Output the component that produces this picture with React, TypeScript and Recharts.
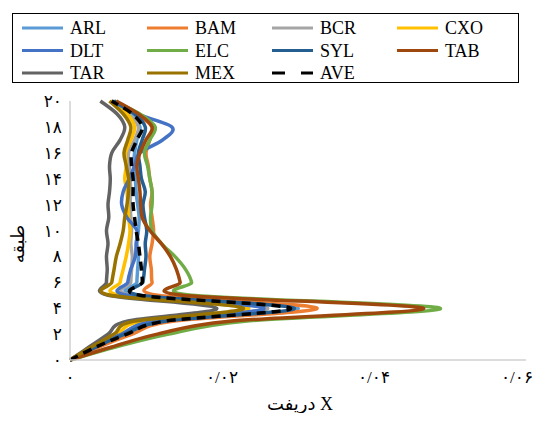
import React from "react";
import { LineChart, Line, XAxis, YAxis } from "recharts";

const stories = [0, 1, 2, 3, 4, 5, 6, 7, 8, 9, 10, 11, 12, 13, 14, 15, 16, 17, 18, 19, 20];

const ARL = [0, 0.003, 0.007, 0.012, 0.03, 0.0088, 0.0088, 0.0089, 0.009, 0.0088, 0.009, 0.0091, 0.0089, 0.0087, 0.0086, 0.0084, 0.0085, 0.0088, 0.0092, 0.008, 0.0055];
const BAM = [0, 0.0038, 0.0082, 0.0135, 0.0325, 0.0115, 0.0108, 0.0107, 0.0105, 0.0108, 0.011, 0.0108, 0.0106, 0.0108, 0.0105, 0.0103, 0.01, 0.0105, 0.0108, 0.0088, 0.0058];
const BCR = [0, 0.003, 0.0068, 0.011, 0.026, 0.008, 0.008, 0.0081, 0.0082, 0.008, 0.0081, 0.008, 0.0079, 0.008, 0.0079, 0.0078, 0.0077, 0.0085, 0.009, 0.0078, 0.0055];
const CXO = [0, 0.003, 0.0062, 0.0095, 0.0235, 0.0065, 0.0066, 0.007, 0.0074, 0.0077, 0.0079, 0.0077, 0.0076, 0.0075, 0.0072, 0.0074, 0.0073, 0.008, 0.0085, 0.0075, 0.0053];
const DLT = [0, 0.0032, 0.0068, 0.011, 0.0255, 0.0075, 0.0076, 0.008, 0.0086, 0.0087, 0.0088, 0.0075, 0.0068, 0.007, 0.0078, 0.0085, 0.0092, 0.0122, 0.0134, 0.0088, 0.0055];
const ELC = [0, 0.006, 0.013, 0.023, 0.0487, 0.016, 0.016, 0.0152, 0.0138, 0.012, 0.0108, 0.0106, 0.0108, 0.0108, 0.0105, 0.0102, 0.0098, 0.0105, 0.0112, 0.0092, 0.0058];
const SYL = [0, 0.0034, 0.0072, 0.0125, 0.0295, 0.0092, 0.0096, 0.0098, 0.01, 0.0099, 0.0101, 0.0098, 0.0096, 0.0099, 0.0094, 0.0092, 0.009, 0.0095, 0.0099, 0.0085, 0.0058];
const TAB = [0, 0.0055, 0.0115, 0.021, 0.0465, 0.0148, 0.0145, 0.014, 0.0132, 0.012, 0.0105, 0.0095, 0.0093, 0.0092, 0.009, 0.0088, 0.0092, 0.01, 0.0108, 0.009, 0.0061];
const TAR = [0, 0.0025, 0.005, 0.0075, 0.0193, 0.005, 0.0048, 0.0049, 0.0048, 0.005, 0.0048, 0.0051, 0.005, 0.0052, 0.0053, 0.0052, 0.0055, 0.0066, 0.0072, 0.0062, 0.004];
const MEX = [0, 0.0028, 0.0058, 0.0085, 0.0228, 0.0053, 0.0055, 0.0058, 0.0061, 0.0066, 0.007, 0.0072, 0.0075, 0.0077, 0.0077, 0.0074, 0.0071, 0.0076, 0.008, 0.007, 0.0052];
const AVE = [0, 0.0034, 0.0075, 0.0125, 0.029, 0.0092, 0.0095, 0.0094, 0.0092, 0.009, 0.0087, 0.0085, 0.0083, 0.0083, 0.0083, 0.0081, 0.0081, 0.0088, 0.0095, 0.0082, 0.0055];

const seriesNames = ["ARL", "BAM", "BCR", "CXO", "DLT", "ELC", "SYL", "TAB", "TAR", "MEX", "AVE"];
const seriesValues = [ARL, BAM, BCR, CXO, DLT, ELC, SYL, TAB, TAR, MEX, AVE];
const seriesColors = ["#5B9BD5", "#ED7D31", "#A5A5A5", "#FFC000", "#4472C4", "#70AD47", "#255E91", "#9E480E", "#636363", "#997300", "#000000"];

const xTicks = [0, 0.02, 0.04, 0.06];
const xTickLabels = ["۰", "۰/۰۲", "۰/۰۴", "۰/۰۶"];
const yTicks = [0, 2, 4, 6, 8, 10, 12, 14, 16, 18, 20];
const yTickLabels = ["۰", "۲", "۴", "۶", "۸", "۱۰", "۱۲", "۱۴", "۱۶", "۱۸", "۲۰"];

const xTitle = "دریفت X";
const yTitle = "طبقه";

const data = stories.map((s, i) => {
  const row: any = { story: s };
  seriesNames.forEach((n, k) => (row[n] = seriesValues[k][i]));
  return row;
});

const FONT = "'Liberation Serif', 'Times New Roman', serif";
const FA_FONT = "'Liberation Serif', 'DejaVu Sans', serif";

// smooth curve like excel (catmull-rom through the points)
const smoothCurve = (context: any) => {
  let pts: number[][] = [];
  return {
    areaStart() {},
    areaEnd() {},
    lineStart() {
      pts = [];
    },
    lineEnd() {
      if (!pts.length) return;
      context.moveTo(pts[0][0], pts[0][1]);
      for (let i = 0; i < pts.length - 1; i++) {
        const p0 = pts[i - 1] || pts[i];
        const p1 = pts[i];
        const p2 = pts[i + 1];
        const p3 = pts[i + 2] || p2;
        context.bezierCurveTo(
          p1[0] + (p2[0] - p0[0]) / 6,
          p1[1] + (p2[1] - p0[1]) / 6,
          p2[0] - (p3[0] - p1[0]) / 6,
          p2[1] - (p3[1] - p1[1]) / 6,
          p2[0],
          p2[1]
        );
      }
    },
    point(x: number, y: number) {
      pts.push([x, y]);
    },
  };
};

const XTick = (props: any) => {
  const { x, y, payload } = props;
  const idx = xTicks.indexOf(payload.value);
  // last label is pulled in so it stays on the page
  const shift = idx === xTicks.length - 1 ? -9 : 0;
  return (
    <text x={x + shift} y={y + 23} textAnchor="middle" fontSize={17} fontFamily={FA_FONT} fill="#000">
      {xTickLabels[idx]}
    </text>
  );
};

const YTick = (props: any) => {
  const { x, y, payload } = props;
  return (
    <text x={x - 8} y={y + 6} textAnchor="end" fontSize={17} fontFamily={FA_FONT} fill="#000">
      {yTickLabels[yTicks.indexOf(payload.value)]}
    </text>
  );
};

const Legend = () => (
  <div
    style={{
      position: "absolute",
      left: 12,
      top: 13,
      width: 507,
      height: 70,
      border: "1.5px solid #000",
      boxSizing: "border-box",
    }}
  >
    <svg width={507} height={70} style={{ position: "absolute", left: -1.5, top: -1.5 }}>
      {seriesNames.map((n, i) => {
        const col = i % 4;
        const row = Math.floor(i / 4);
        const lx = 10 + col * 125;
        const ly = 15 + row * 22.5;
        return (
          <g key={n}>
            <line
              x1={lx}
              y1={ly}
              x2={lx + 41}
              y2={ly}
              stroke={seriesColors[i]}
              strokeWidth={3}
              strokeDasharray={n === "AVE" ? "13 16" : undefined}
            />
            <text x={lx + 48} y={ly + 6} fontSize={18} fontFamily={FONT} fill="#000">
              {n}
            </text>
          </g>
        );
      })}
    </svg>
  </div>
);

export default function App() {
  return (
    <div style={{ position: "relative", width: 541, height: 421, margin: -8, background: "#fff" }}>
      <Legend />
      <div style={{ position: "absolute", left: 0, top: 0 }}>
        <LineChart
          width={541}
          height={421}
          data={data}
          layout="vertical"
          margin={{ top: 101, right: 15, bottom: 0, left: 0 }}
        >
          <XAxis
            type="number"
            domain={[0, 0.06]}
            ticks={xTicks}
            height={61}
            tickLine={false}
            tickSize={0}
            tickMargin={0}
            axisLine={{ stroke: "#D0D0D0", strokeWidth: 1.5 }}
            tick={<XTick />}
            interval={0}
          />
          <YAxis
            type="number"
            dataKey="story"
            domain={[0, 20]}
            ticks={yTicks}
            reversed
            width={70}
            tickLine={false}
            tickSize={0}
            tickMargin={0}
            axisLine={{ stroke: "#D0D0D0", strokeWidth: 1.5 }}
            tick={<YTick />}
            interval={0}
          />
          {seriesNames.map((n, i) => (
            <Line
              key={n}
              dataKey={n}
              type={smoothCurve as any}
              stroke={seriesColors[i]}
              strokeWidth={3.5}
              strokeDasharray={n === "AVE" ? "9 6" : undefined}
              dot={false}
              activeDot={false}
              isAnimationActive={false}
            />
          ))}
        </LineChart>
      </div>
      <div
        style={{
          position: "absolute",
          left: 230,
          top: 393,
          width: 140,
          textAlign: "center",
          fontFamily: FA_FONT,
          fontSize: 18,
          lineHeight: "22px",
        }}
      >
        {xTitle}
      </div>
      <div
        style={{
          position: "absolute",
          left: 18,
          top: 244,
          transform: "translate(-50%, -50%) rotate(-90deg)",
          fontFamily: FA_FONT,
          fontSize: 18,
          whiteSpace: "nowrap",
        }}
      >
        {yTitle}
      </div>
    </div>
  );
}
